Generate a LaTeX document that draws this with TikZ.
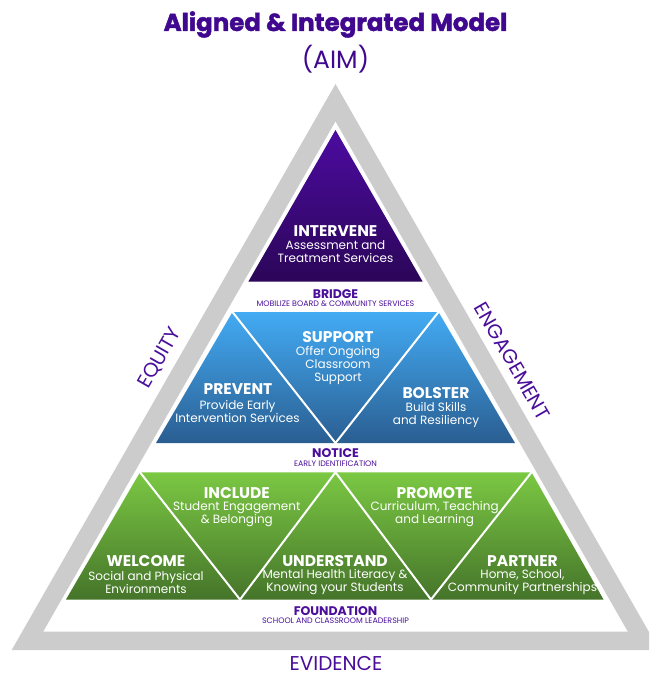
\documentclass[tikz,border=0pt]{standalone}
\usepackage{fontspec}
\setmainfont{Poppins}
\newfontfamily\titlefont[BoldFeatures={FakeBold=1.6}]{Poppins}
\definecolor{titlepurple}{HTML}{40088F}
\definecolor{labelpurple}{HTML}{4A0E9B}
\definecolor{framegray}{HTML}{CCCCCC}
\definecolor{purpletop}{HTML}{4C0BA0}
\definecolor{purplebot}{HTML}{2B0658}
\definecolor{bluetop}{HTML}{43ABF4}
\definecolor{bluebot}{HTML}{2A5E91}
\definecolor{greentop}{HTML}{7BC843}
\definecolor{greenbot}{HTML}{45742A}
\tikzset{
  head/.style={text=white, font=\fontsize{15.5}{15.5}\selectfont\bfseries, inner sep=0pt},
  desc/.style={text=white, font=\fontsize{12}{13}\selectfont, align=center, inner sep=0pt},
  bandlabel/.style={text=labelpurple, font=\fontsize{12.5}{12.5}\selectfont\bfseries, inner sep=0pt},
  bandsub/.style={text=labelpurple, font=\fontsize{7.9}{7.9}\selectfont, inner sep=0pt},
  sidelabel/.style={text=labelpurple, font=\fontsize{20}{20}\selectfont, inner sep=0pt},
  divider/.style={white, line width=2pt, line cap=round}
}
\begin{document}
\begin{tikzpicture}[x=1pt,y=-1pt]
\useasboundingbox (0,0) rectangle (649,673);
\clip (0,0) rectangle (649,673);
% frame
\fill[framegray] (335.5,84) -- (11.7,650) -- (659.3,650) -- cycle;
\fill[white] (335.5,121.7) -- (43.3,631.7) -- (627.7,631.7) -- cycle;
% purple apex
\shade[top color=purpletop, bottom color=purplebot] (335.5,130) -- (248.3,281.7) -- (422.7,281.7) -- cycle;
% blue band
\coordinate (b1) at (232.5,312);
\coordinate (b2) at (438.5,312);
\coordinate (b3) at (515,443);
\coordinate (b4) at (156,443);
\coordinate (bm) at (335.5,443);
\shade[top color=bluetop, bottom color=bluebot] (b1) -- (b2) -- (b3) -- (b4) -- cycle;
\draw[divider] (b1) -- (bm) -- (b2);
% green band
\coordinate (g1) at (140,472.3);
\coordinate (g2) at (531.5,472.3);
\coordinate (g3) at (603.5,599.5);
\coordinate (g4) at (66,599.5);
\coordinate (gt) at (335.5,472.3);
\coordinate (gb1) at (240,599.5);
\coordinate (gb2) at (431,599.5);
\shade[top color=greentop, bottom color=greenbot] (g1) -- (g2) -- (g3) -- (g4) -- cycle;
\draw[divider] (g1) -- (gb1) -- (gt) -- (gb2) -- (g2);
% title
\node[text=titlepurple, font=\titlefont\fontsize{24.5}{24.5}\selectfont\bfseries, inner sep=0pt] (title) at (335.5,24.5) {Aligned \& Integrated Model};
\node[text=titlepurple, font=\fontsize{25}{25}\selectfont, inner sep=0pt] (aim) at (335.5,59) {(AIM)};
% apex
\node[head] (intervene) at (335.5,230.7) {INTERVENE};
\node[desc] (interveneD) at (335.5,251.5) {Assessment and\\Treatment Services};
% bridge
\node[bandlabel] (bridge) at (335.5,294) {BRIDGE};
\node[bandsub] (bridgeS) at (335.5,303.5) {MOBILIZE BOARD \& COMMUNITY SERVICES};
% blue
\node[head] (support) at (338,337.3) {SUPPORT};
\node[desc] (supportD) at (338,365) {Offer Ongoing\\Classroom\\Support};
\node[head] (prevent) at (238,389.5) {PREVENT};
\node[desc] (preventD) at (237.5,411) {Provide Early\\Intervention Services};
\node[head] (bolster) at (436,393.3) {BOLSTER};
\node[desc] (bolsterD) at (436,414.5) {Build Skills\\and Resiliency};
% notice
\node[bandlabel] (notice) at (335.5,453.3) {NOTICE};
\node[bandsub] (noticeS) at (335.5,463.5) {EARLY IDENTIFICATION};
% green
\node[head] (include) at (236.8,493.3) {INCLUDE};
\node[desc] (includeD) at (236.8,514.5) {Student Engagement\\\& Belonging};
\node[head] (promote) at (434.6,493.3) {PROMOTE};
\node[desc] (promoteD) at (434.6,514.5) {Curriculum, Teaching\\and Learning};
\node[head] (welcome) at (146,560.7) {WELCOME};
\node[desc] (welcomeD) at (146,582) {Social and Physical\\Environments};
\node[head] (understand) at (335,560.7) {UNDERSTAND};
\node[desc] (understandD) at (335,582) {Mental Health Literacy \&\\Knowing your Students};
\node[head] (partner) at (522.5,560.7) {PARTNER};
\node[desc] (partnerD) at (522.5,582) {Home, School,\\Community Partnerships};
% foundation
\node[bandlabel] (foundation) at (335.5,611) {FOUNDATION};
\node[bandsub] (foundationS) at (335.5,621) {SCHOOL AND CLASSROOM LEADERSHIP};
% sides
\node[sidelabel, rotate=60] (equity) at (160,358) {EQUITY};
\node[sidelabel, rotate=-60] (engagement) at (512.5,361) {ENGAGEMENT};
\node[sidelabel] (evidence) at (336,663) {EVIDENCE};
\end{tikzpicture}
\end{document}
